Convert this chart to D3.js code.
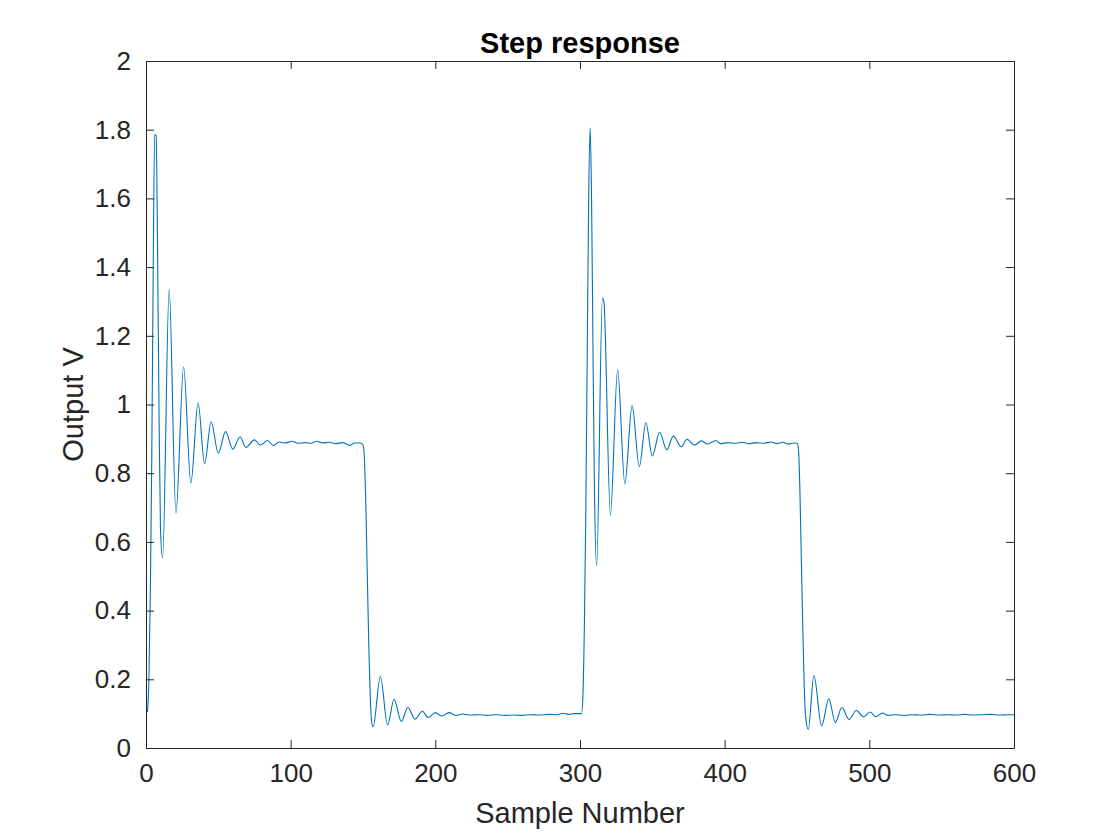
<!DOCTYPE html>
<html>
<head>
<meta charset="utf-8">
<script src="https://cdn.jsdelivr.net/npm/d3@7"></script>
<style>
  body { margin: 0; background: #fff; }
  text { font-family: "Liberation Sans", Arial, Helvetica, sans-serif; fill: #262626; }
</style>
</head>
<body>
<div id="chart"></div>
<script>
const sampleIdx = [
  1, 2, 3, 4, 5, 6, 7, 8, 9, 10, 11.5, 16, 20.7, 26, 31, 36, 40.5, 45, 50, 55, 60, 65, 69, 75, 79, 84, 88,
  92, 96, 101, 105, 110, 114, 118, 122, 127, 131, 136, 141, 144, 148, 150,
  151, 152, 153, 154, 155, 156, 157, 162, 167, 171.5, 176.5, 181, 186, 191, 195, 200, 204.5, 209.5,
  214, 219, 224, 230, 236, 242, 248, 254, 260, 266, 272, 278, 284, 288, 292, 296, 300, 301,
  302, 303, 304, 305, 306, 307, 308, 309, 310, 311.5, 315.5, 316.5, 321, 326, 331, 336, 341, 345.5, 350,
  355, 360, 364.5, 370, 374, 379, 384, 388, 394, 397, 402, 407, 412, 417, 422, 427, 432, 436, 440, 444, 448, 450,
  451, 452, 453, 454, 455, 456, 457.8, 461.7, 467, 472, 476.5, 481, 486, 491, 496, 500.5, 504.5, 509,
  513, 518, 524, 530, 536, 542, 548, 554, 560, 566, 572, 578, 584, 590, 595, 600
];
const outputV = [
  0.105, 0.2, 0.45, 0.85, 1.4, 1.786, 1.783, 1.45, 0.98, 0.64, 0.553, 1.336, 0.684, 1.11, 0.771, 1.005, 0.827, 0.95, 0.858, 0.921, 0.87, 0.906, 0.875, 0.897, 0.882, 0.895, 0.881,
  0.891, 0.888, 0.893, 0.887, 0.889, 0.887, 0.893, 0.888, 0.89, 0.886, 0.889, 0.881, 0.888, 0.888, 0.882,
  0.84, 0.7, 0.5, 0.3, 0.15, 0.075, 0.062, 0.208, 0.067, 0.142, 0.077, 0.118, 0.084, 0.107, 0.089, 0.103, 0.093, 0.103,
  0.095, 0.099, 0.096, 0.097, 0.095, 0.097, 0.095, 0.096, 0.095, 0.097, 0.096, 0.098, 0.097, 0.101, 0.098, 0.1, 0.1, 0.1,
  0.15, 0.35, 0.68, 1.15, 1.6, 1.805, 1.6, 1.15, 0.75, 0.531, 1.31, 1.3, 0.678, 1.102, 0.769, 0.996, 0.819, 0.947, 0.85,
  0.919, 0.868, 0.908, 0.877, 0.899, 0.882, 0.894, 0.885, 0.895, 0.886, 0.889, 0.887, 0.89, 0.886, 0.889, 0.887, 0.891, 0.886, 0.89, 0.885, 0.888, 0.887,
  0.87, 0.75, 0.55, 0.35, 0.18, 0.09, 0.054, 0.212, 0.064, 0.143, 0.074, 0.118, 0.083, 0.109, 0.091, 0.105, 0.091, 0.102,
  0.095, 0.097, 0.095, 0.097, 0.096, 0.098, 0.096, 0.097, 0.096, 0.098, 0.096, 0.097, 0.098, 0.096, 0.097, 0.097
];
const xTicks = [0, 100, 200, 300, 400, 500, 600];
const yTicks = [0, 0.2, 0.4, 0.6, 0.8, 1, 1.2, 1.4, 1.6, 1.8, 2];

const width = 1120, height = 840;
const margin = {top: 61, right: 106, bottom: 92, left: 146};
const innerW = width - margin.left - margin.right;
const innerH = height - margin.top - margin.bottom;

const svg = d3.select("#chart").append("svg")
  .attr("width", width)
  .attr("height", height);

const g = svg.append("g")
  .attr("transform", `translate(${margin.left},${margin.top})`);

const x = d3.scaleLinear().domain([0, 600]).range([0, innerW]);
const y = d3.scaleLinear().domain([0, 2]).range([innerH, 0]);

const data = sampleIdx.map((s, i) => [s, outputV[i]]);

const line = d3.line()
  .x(d => x(d[0]))
  .y(d => y(d[1]))
  .curve(d3.curveMonotoneX);

g.append("path")
  .datum(data)
  .attr("fill", "none")
  .attr("stroke", "#0072BD")
  .attr("stroke-width", 1.1)
  .attr("d", line);

// axes, matlab style: ticks point inward, box on
const tickLen = 8;
const fmt = d => d3.format("~g")(d);

const xAxis = g.append("g")
  .attr("transform", `translate(0,${innerH})`)
  .call(d3.axisBottom(x).tickValues(xTicks).tickSizeInner(-tickLen).tickSizeOuter(0).tickPadding(13).tickFormat(fmt));
const yAxis = g.append("g")
  .call(d3.axisLeft(y).tickValues(yTicks).tickSizeInner(-tickLen).tickSizeOuter(0).tickPadding(15).tickFormat(fmt));
const xTop = g.append("g")
  .call(d3.axisTop(x).tickValues(xTicks).tickSizeInner(-tickLen).tickSizeOuter(0).tickFormat(""));
const yRight = g.append("g")
  .attr("transform", `translate(${innerW},0)`)
  .call(d3.axisRight(y).tickValues(yTicks).tickSizeInner(-tickLen).tickSizeOuter(0).tickFormat(""));

[xAxis, yAxis, xTop, yRight].forEach(a => {
  a.select(".domain").attr("stroke", "#262626").attr("stroke-width", 1);
  a.selectAll(".tick line").attr("stroke", "#262626").attr("stroke-width", 1);
  a.selectAll("text")
    .attr("fill", "#262626")
    .style("font-size", "26px")
    .style("font-family", "'Liberation Sans', Arial, sans-serif");
});
xAxis.selectAll("text").attr("dy", "0.8em");

svg.append("text")
  .attr("x", margin.left + innerW / 2)
  .attr("y", 53)
  .attr("text-anchor", "middle")
  .style("font-size", "29px")
  .style("font-weight", "bold")
  .style("fill", "#000")
  .text("Step response");

svg.append("text")
  .attr("x", margin.left + innerW / 2)
  .attr("y", 823)
  .attr("text-anchor", "middle")
  .style("font-size", "29px")
  .text("Sample Number");

svg.append("text")
  .attr("transform", `translate(83,${margin.top + innerH / 2}) rotate(-90)`)
  .attr("text-anchor", "middle")
  .style("font-size", "29px")
  .text("Output V");
</script>
</body>
</html>
